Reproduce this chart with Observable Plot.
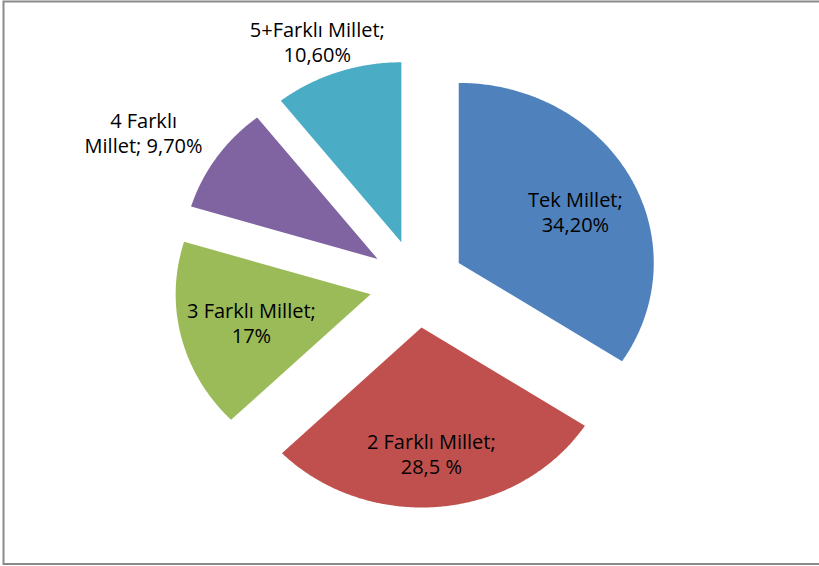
<!DOCTYPE html>
<html><head><meta charset="utf-8">
<script src="https://cdn.jsdelivr.net/npm/d3@7"></script>
<script src="https://cdn.jsdelivr.net/npm/@observablehq/plot@0.6"></script>
<style>body{margin:0;background:#fff}</style>
</head><body><div id="chart"></div>
<script>
// ---- data ----
const categories = ["Tek Millet", "2 Farklı Millet", "3 Farklı Millet", "4 Farklı Millet", "5+Farklı Millet"];
const values = [34.2, 28.5, 17, 9.7, 10.6];
const labelTexts = ["Tek Millet;\n34,20%", "2 Farklı Millet;\n28,5 %", "3 Farklı Millet;\n17%", "4 Farklı\nMillet; 9,70%", "5+Farklı Millet;\n10,60%"];
const colors = ["#4F81BD", "#C0504D", "#9BBB59", "#8064A2", "#4BACC6"];

// ---- layout ----
const W = 819, H = 566;
const cx = 416.4, cy = 283.3, rx = 195, ry = 180;
const explode = 0.244;
const labelPlace = [[0.907, 2.1], [0.946, 1.1], [0.876, -0.7], [1.635, -3.4], [1.44, -1.7]];

const total = d3.sum(values);
let acc = 0;
const slices = values.map((v, i) => {
  const a0 = acc / total * 360; acc += v; const a1 = acc / total * 360;
  return {i, cat: categories[i], a0, a1, mid: (a0 + a1) / 2};
});
const rad = d => d * Math.PI / 180;
const pts = [];
for (const s of slices) {
  const ox = explode * Math.sin(rad(s.mid)), oy = explode * Math.cos(rad(s.mid));
  pts.push({cat: s.cat, x: ox, y: oy});
  const n = Math.ceil((s.a1 - s.a0) / 0.5);
  for (let k = 0; k <= n; k++) {
    const a = s.a0 + (s.a1 - s.a0) * k / n;
    pts.push({cat: s.cat, x: ox + Math.sin(rad(a)), y: oy + Math.cos(rad(a))});
  }
  pts.push({cat: s.cat, x: ox, y: oy});
}
const labels = slices.map(s => {
  const [r, d] = labelPlace[s.i];
  const a = rad(s.mid + d);
  return {text: labelTexts[s.i], x: r * Math.sin(a), y: r * Math.cos(a)};
});

const plot = Plot.plot({
  width: W, height: H, margin: 0,
  x: {domain: [-cx / rx, (W - cx) / rx], axis: null},
  y: {domain: [-(H - cy) / ry, cy / ry], axis: null},
  color: {domain: categories, range: colors},
  style: {background: "white", overflow: "hidden"},
  marks: [
    Plot.line(pts, {x: "x", y: "y", z: "cat", fill: "cat", stroke: "none", curve: "linear"}),
    Plot.text(labels, {x: "x", y: "y", text: "text", fontSize: 20, fontFamily: "'Open Sans'", fill: "#000", lineHeight: 1.25, lineAnchor: "middle"}),
    Plot.frame({stroke: "#8a8a8a", strokeWidth: 2, insetLeft: 3, insetTop: 1, insetBottom: 2.5, insetRight: -10})
  ]
});
document.getElementById("chart").append(plot);
</script></body></html>
